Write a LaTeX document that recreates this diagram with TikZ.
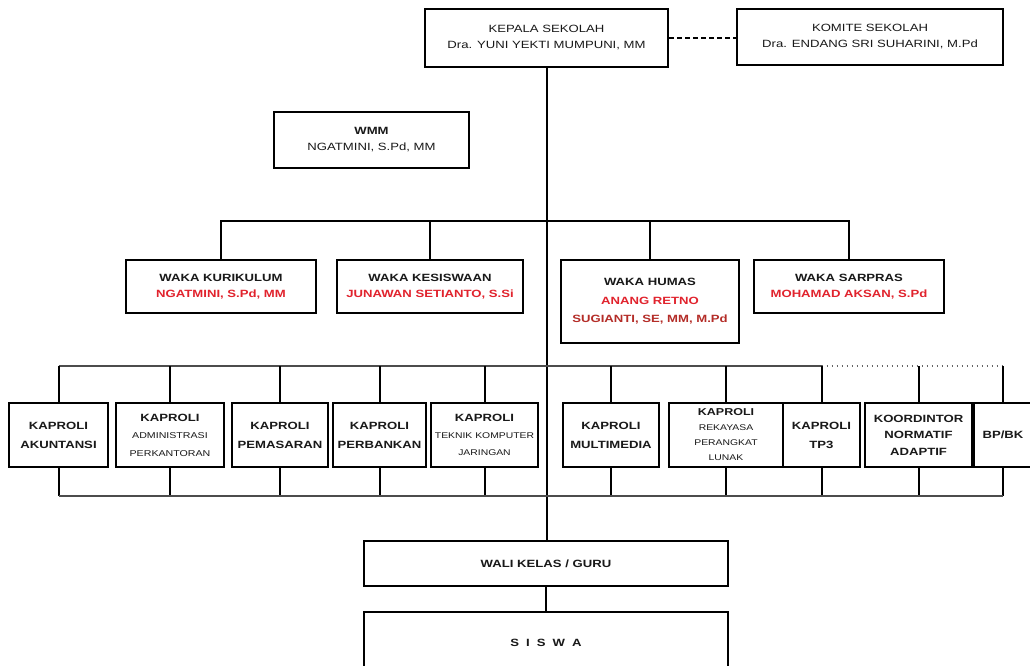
\documentclass[tikz,border=0pt]{standalone}
\usepackage{fontspec}
\setmainfont{Liberation Sans}[FakeStretch=1.25]
\definecolor{nred}{RGB}{225,35,45}
\definecolor{ndred}{RGB}{180,45,40}
\begin{document}
\begin{tikzpicture}[x=1pt,y=-1pt,
  box/.style={draw=black, line width=2pt, inner sep=0pt, align=center,
    font=\fontsize{10.5}{16}\selectfont, text=black!90},
  conn/.style={line width=2pt, draw=black},
  busline/.style={line width=2pt, draw=black!70},
  dotline/.style={line width=1.2pt, draw=black!60, dash pattern=on 1.5pt off 3.5pt},
  dashline/.style={line width=1.8pt, draw=black, dash pattern=on 5pt off 3pt}]
\clip (0,0) rectangle (1030,665);
\path[use as bounding box] (0,0) rectangle (1030,665);
\fill[white] (0,0) rectangle (1030,665);

% top level
\node[box, minimum width=243, minimum height=58] (kepala) at (546.5,38)
  {KEPALA SEKOLAH\\Dra. YUNI YEKTI MUMPUNI, MM};
\node[box, minimum width=266, minimum height=56] (komite) at (870,36.5)
  {KOMITE SEKOLAH\\Dra. ENDANG SRI SUHARINI, M.Pd};
\node[box, minimum width=195, minimum height=56] (wmm) at (371.5,140)
  {\textbf{WMM}\\NGATMINI, S.Pd, MM};

% waka
\node[box, minimum width=190, minimum height=53] (kur) at (221,286.5)
  {\textbf{WAKA KURIKULUM}\\\textcolor{nred}{\textbf{NGATMINI, S.Pd, MM}}};
\node[box, minimum width=186, minimum height=53] (kes) at (430,286.5)
  {\textbf{WAKA KESISWAAN}\\\textcolor{nred}{\textbf{JUNAWAN SETIANTO, S.Si}}};
\node[box, minimum width=178, minimum height=83, font=\fontsize{10.5}{18.5}\selectfont] (hum) at (650,301.5)
  {\textbf{WAKA HUMAS}\\\textcolor{nred}{\textbf{ANANG RETNO}}\\\textcolor{ndred}{\textbf{SUGIANTI, SE, MM, M.Pd}}};
\node[box, minimum width=190, minimum height=53] (sar) at (849,286.5)
  {\textbf{WAKA SARPRAS}\\\textcolor{nred}{\textbf{MOHAMAD AKSAN, S.Pd}}};

% kaproli row
\node[box, minimum width=99, minimum height=64, font=\fontsize{10.5}{19}\selectfont] (akun) at (58.5,435)
  {\textbf{KAPROLI}\\\textbf{AKUNTANSI}};
\node[box, minimum width=108, minimum height=64, font=\fontsize{10.5}{17.5}\selectfont] (adm) at (170,435)
  {\textbf{KAPROLI}\\{\fontsize{8.5}{10}\selectfont ADMINISTRASI}\\{\fontsize{8.5}{10}\selectfont PERKANTORAN}};
\node[box, minimum width=96, minimum height=64, font=\fontsize{10.5}{19}\selectfont] (pem) at (280,435)
  {\textbf{KAPROLI}\\\textbf{PEMASARAN}};
\node[box, minimum width=93, minimum height=64, font=\fontsize{10.5}{19}\selectfont] (perb) at (379.5,435)
  {\textbf{KAPROLI}\\\textbf{PERBANKAN}};
\node[box, minimum width=107, minimum height=64, font=\fontsize{10.5}{17}\selectfont] (tkj) at (484.5,435)
  {\textbf{KAPROLI}\\{\fontsize{8.3}{10}\selectfont TEKNIK KOMPUTER}\\{\fontsize{8.3}{10}\selectfont JARINGAN}};
\node[box, minimum width=96, minimum height=64, font=\fontsize{10.5}{19}\selectfont] (mm) at (611,435)
  {\textbf{KAPROLI}\\\textbf{MULTIMEDIA}};
\node[box, minimum width=114, minimum height=64, font=\fontsize{10}{15}\selectfont] (rpl) at (726,435)
  {\textbf{KAPROLI}\\{\fontsize{8.3}{10}\selectfont REKAYASA}\\{\fontsize{8.3}{10}\selectfont PERANGKAT}\\{\fontsize{8.3}{10}\selectfont LUNAK}};
\node[box, minimum width=77, minimum height=64, font=\fontsize{10.5}{19}\selectfont] (tp3) at (821.5,435)
  {\textbf{KAPROLI}\\\textbf{TP3}};
\node[box, minimum width=107, minimum height=64, font=\fontsize{10.5}{16.5}\selectfont] (koor) at (918.5,435)
  {\textbf{KOORDINTOR}\\\textbf{NORMATIF}\\\textbf{ADAPTIF}};
\node[box, minimum width=58, minimum height=64] (bk) at (1003,435)
  {\textbf{BP/BK}};

% bottom
\node[box, minimum width=364, minimum height=45] (wali) at (546,563.5)
  {\textbf{WALI KELAS / GURU}};
\node[box, minimum width=364, minimum height=62] (siswa) at (546,643)
  {\textbf{S\hspace{7pt}I\hspace{7pt}S\hspace{7pt}W\hspace{7pt}A}};

% bus coordinates
\coordinate (wbus) at (0,221);
\coordinate (kbus) at (0,366);
\coordinate (bbus) at (0,496);

% connectors
\draw[dashline] (kepala.east) -- (kepala.east -| komite.west);
\draw[conn] (kepala.south) -- (kepala.south |- wali.north);
\draw[conn] (wali.south) -- (siswa.north);

\draw[conn] (kur.north) -- (kur.north |- wbus) -- (sar.north |- wbus) -- (sar.north);
\draw[conn] (kes.north) -- (kes.north |- wbus);
\draw[conn] (hum.north) -- (hum.north |- wbus);

\draw[busline] (akun.north |- kbus) -- (tp3.north |- kbus);
\draw[dotline] (tp3.north |- kbus) -- (bk.north |- kbus);
\foreach \n in {akun,adm,pem,perb,tkj,mm,rpl,tp3,koor,bk}{
  \draw[conn] (\n.north) -- (\n.north |- kbus);
  \draw[conn] (\n.south) -- (\n.south |- bbus);
}
\draw[busline] (akun.south |- bbus) -- (bk.south |- bbus);
\end{tikzpicture}
\end{document}
